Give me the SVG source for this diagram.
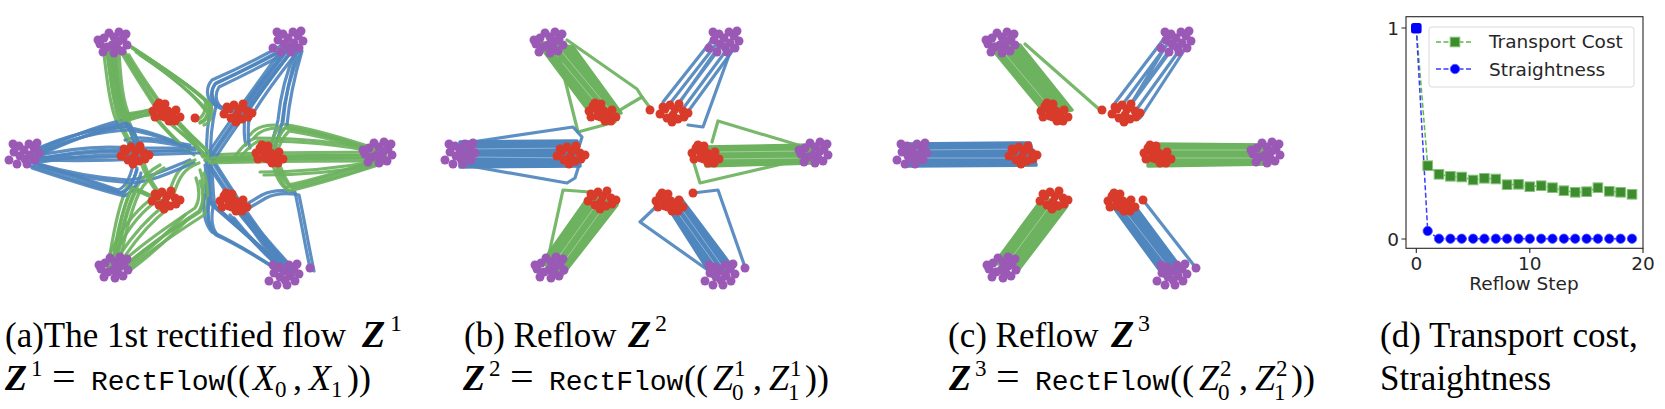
<svg xmlns="http://www.w3.org/2000/svg" xmlns:xlink="http://www.w3.org/1999/xlink" width="1665" height="409" viewBox="0 0 1665 409">
<style>
.g{fill:none;stroke:#6db25e;stroke-width:3.2;stroke-linecap:round;stroke-linejoin:round;stroke-opacity:.92}
.b{fill:none;stroke:#4f86be;stroke-width:3.2;stroke-linecap:round;stroke-linejoin:round;stroke-opacity:.92}
.gf{fill:#6db25e;stroke:#6db25e;stroke-width:3.5;stroke-linejoin:round}
.bf{fill:#4f86be;stroke:#4f86be;stroke-width:3.5;stroke-linejoin:round}
.gap{fill:none;stroke:#fff;stroke-width:.8;stroke-opacity:.45}
.cap{font-family:'Liberation Serif','Times New Roman',serif;fill:#000}
.bz{font-family:'Liberation Serif','Times New Roman',serif;font-weight:bold;font-style:italic}
.it{font-family:'Liberation Serif','Times New Roman',serif;font-style:italic}
.tt{font-family:'Liberation Mono','Courier New',monospace}
.ax{font-family:'DejaVu Sans',sans-serif;font-size:18.5px;fill:#262626}
</style>
<defs>
<g id="rA" fill="#d93b2b">
<circle cx="-14" cy="-2" r="4.5"/><circle cx="-10" cy="-7" r="4.5"/><circle cx="-6" cy="-3" r="4.5"/><circle cx="-2" cy="-9" r="4.5"/><circle cx="-12" cy="4" r="4.5"/><circle cx="-5" cy="3" r="4.5"/><circle cx="1" cy="-2" r="4.5"/><circle cx="5" cy="3" r="4.5"/><circle cx="9" cy="-3" r="4.5"/><circle cx="13" cy="4" r="4.5"/><circle cx="8" cy="8" r="4.5"/><circle cx="2" cy="8" r="4.5"/><circle cx="-2" cy="4" r="4.5"/><circle cx="-8" cy="-10" r="4.5"/>
</g>
<g id="rB" fill="#d93b2b">
<circle cx="-13" cy="1" r="4.5"/><circle cx="-8" cy="-4" r="4.5"/><circle cx="-3" cy="-8" r="4.5"/><circle cx="2" cy="-4" r="4.5"/><circle cx="6" cy="-9" r="4.5"/><circle cx="10" cy="-2" r="4.5"/><circle cx="-6" cy="5" r="4.5"/><circle cx="0" cy="2" r="4.5"/><circle cx="5" cy="6" r="4.5"/><circle cx="11" cy="4" r="4.5"/><circle cx="15" cy="0" r="4.5"/><circle cx="-1" cy="9" r="4.5"/><circle cx="-10" cy="-6" r="4.5"/>
</g>
<g id="pA" fill="#9b59b6">
<circle cx="-14" cy="1" r="4.5"/><circle cx="-10" cy="-5" r="4.5"/><circle cx="-5" cy="-10" r="4.5"/><circle cx="0" cy="-6" r="4.5"/><circle cx="5" cy="-11" r="4.5"/><circle cx="9" cy="-4" r="4.5"/><circle cx="13" cy="2" r="4.5"/><circle cx="-7" cy="4" r="4.5"/><circle cx="-2" cy="2" r="4.5"/><circle cx="3" cy="5" r="4.5"/><circle cx="8" cy="8" r="4.5"/><circle cx="-11" cy="9" r="4.5"/><circle cx="0" cy="10" r="4.5"/><circle cx="5" cy="-2" r="4.5"/><circle cx="12" cy="-9" r="4.5"/><circle cx="-16" cy="-3" r="4.5"/>
</g>
<g id="pB" fill="#9b59b6">
<circle cx="-16" cy="7" r="4.5"/><circle cx="-11" cy="-1" r="4.5"/><circle cx="-6" cy="-7" r="4.5"/><circle cx="-1" cy="-3" r="4.5"/><circle cx="4" cy="-9" r="4.5"/><circle cx="9" cy="-5" r="4.5"/><circle cx="14" cy="0" r="4.5"/><circle cx="-5" cy="3" r="4.5"/><circle cx="0" cy="6" r="4.5"/><circle cx="5" cy="2" r="4.5"/><circle cx="10" cy="7" r="4.5"/><circle cx="-8" cy="11" r="4.5"/><circle cx="2" cy="11" r="4.5"/><circle cx="12" cy="-10" r="4.5"/><circle cx="-12" cy="-9" r="4.5"/>
</g>
<g id="dots">
<use href="#rA" x="-35" y="113"/><use href="#rB" x="35" y="113"/><use href="#rB" x="-68" y="155"/><use href="#rA" x="68" y="155"/><use href="#rB" x="-37" y="200"/><use href="#rA" x="32" y="203"/>
<use href="#pA" x="-88" y="43"/><use href="#pB" x="87" y="41"/><use href="#pB" x="-177" y="153"/><use href="#pA" x="177" y="153"/><use href="#pA" x="-87" y="268"/><use href="#pB" x="83" y="274"/>
</g>
<rect id="sq" x="-4.8" y="-4.8" width="9.6" height="9.6" fill="#3d8c2e" stroke="#86c279" stroke-width="1"/>
<circle id="dt" r="4.7" fill="#0000ff" stroke="#5a5aff" stroke-width=".8"/>
</defs>
<rect width="1665" height="409" fill="#fff"/>

<g id="panel-a">
<g id="flows-a">
<path class="g" d="M106,45 C110,75 113,100 120,118 C130,116 145,110 158,108"/>
<path class="g" d="M109,47 C112,78 116,100 122,117 C132,114 148,110 163,112"/>
<path class="g" d="M112,48 C114,80 117,98 124,116 C128,125 132,138 137,148"/>
<path class="g" d="M103,46 C107,80 110,105 116,120 C122,130 128,140 132,152"/>
<path class="g" d="M115,50 C117,80 119,100 126,114 L165,108"/>
<path class="g" d="M128,45 C150,60 185,80 205,100 C207,110 203,118 196,120"/>
<path class="g" d="M132,47 C155,62 188,85 207,102 C210,112 206,120 200,122"/>
<path class="g" d="M136,52 C160,68 190,90 205,110"/>
<path class="g" d="M125,52 C135,70 150,90 162,108"/>
<path class="g" d="M120,50 C132,72 148,95 158,112"/>
<path class="g" d="M160,115 C175,128 190,140 205,155"/>
<path class="g" d="M168,112 C180,125 195,140 208,152"/>
<path class="g" d="M172,118 C185,130 195,145 203,157"/>
<path class="g" d="M150,112 C165,130 180,145 190,152"/>
<path class="b" d="M30,155 C60,140 100,125 123,120 C130,125 133,135 135,145"/>
<path class="b" d="M32,152 C62,138 98,127 125,123 C132,130 134,140 138,150"/>
<path class="b" d="M28,158 C60,150 95,145 130,148 L185,148"/>
<path class="b" d="M30,160 C60,155 100,150 135,152 L195,150"/>
<path class="b" d="M32,157 C65,158 100,158 140,156"/>
<path class="b" d="M30,162 C60,170 95,182 118,190 C126,187 130,178 133,165"/>
<path class="b" d="M28,165 C58,175 92,186 120,193 C128,190 134,180 137,170"/>
<path class="b" d="M35,150 C65,135 100,128 125,127 C150,130 170,140 185,145"/>
<path class="b" d="M35,163 C65,172 100,178 128,180 C150,178 170,168 190,160"/>
<path class="b" d="M125,140 C140,135 160,140 190,145"/>
<path class="g" d="M108,268 C112,240 118,205 128,185 C140,190 150,195 160,200"/>
<path class="g" d="M112,266 C116,238 122,208 132,188 C145,192 155,198 165,203"/>
<path class="g" d="M115,265 C120,235 126,210 135,190 C140,180 150,170 160,165"/>
<path class="g" d="M118,266 C140,245 170,225 195,208 C200,200 200,190 196,178"/>
<path class="g" d="M122,268 C145,248 175,228 200,212 C205,200 205,185 200,170"/>
<path class="g" d="M125,268 C150,250 170,230 185,215"/>
<path class="g" d="M110,270 C125,245 145,220 165,205"/>
<path class="g" d="M105,265 C115,240 130,215 150,200"/>
<path class="g" d="M160,195 C150,185 145,175 140,160"/>
<path class="g" d="M170,190 C175,175 180,165 195,160"/>
<path class="b" d="M283,270 C260,245 230,220 208,200 C205,190 207,175 205,165"/>
<path class="b" d="M287,272 C262,248 235,225 212,205 C208,195 210,180 207,162"/>
<path class="b" d="M290,272 C270,250 250,228 238,212"/>
<path class="b" d="M280,268 C258,248 242,230 230,215"/>
<path class="b" d="M293,270 C275,250 255,228 240,208"/>
<path class="b" d="M310,268 C305,245 300,215 295,192 C285,190 272,190 262,195 L245,205"/>
<path class="b" d="M205,160 C230,200 260,240 280,268"/>
<path class="b" d="M210,158 C235,198 262,238 285,266"/>
<path class="b" d="M205,195 C202,210 205,225 212,232 C230,240 255,255 275,268"/>
<path class="b" d="M210,200 C206,215 208,228 215,233"/>
<path class="b" d="M288,42 C265,55 235,70 212,80 C205,88 207,98 212,103 C225,110 235,110 240,112"/>
<path class="b" d="M292,44 C268,58 240,72 215,84 C210,92 212,100 218,105"/>
<path class="b" d="M290,46 C270,70 250,95 240,112"/>
<path class="b" d="M294,48 C275,72 255,98 245,118"/>
<path class="b" d="M296,50 C285,75 280,100 278,120 C276,130 272,140 270,150"/>
<path class="b" d="M298,48 C290,75 285,100 283,122"/>
<path class="b" d="M285,45 C260,80 230,120 207,155"/>
<path class="b" d="M288,47 C262,83 232,122 210,157"/>
<path class="b" d="M245,115 C244,125 243,135 246,145"/>
<path class="b" d="M212,103 C208,120 206,140 207,155"/>
<path class="g" d="M380,152 C320,152 260,153 207,155"/>
<path class="g" d="M382,155 C320,155 260,156 210,158"/>
<path class="g" d="M378,158 C320,158 255,158 205,160"/>
<path class="g" d="M380,150 C350,140 310,128 282,124 C275,130 272,140 270,150"/>
<path class="g" d="M382,153 C352,143 312,132 285,128 C278,135 275,142 272,152"/>
<path class="g" d="M380,160 C350,170 310,182 285,188 C278,182 275,172 272,162"/>
<path class="g" d="M383,158 C352,168 314,180 288,185 C282,178 278,168 275,160"/>
<path class="g" d="M375,150 C340,142 300,138 255,138 C245,142 240,150 235,156"/>
<path class="g" d="M378,161 C340,168 300,172 260,172"/>
<path class="g" d="M250,135 C255,128 262,125 275,125"/>
</g>
<use href="#flows-a" transform="translate(4,3)"/>
<use href="#dots" x="202"/>
<circle cx="195" cy="118" r="4.5" fill="#d93b2b"/>
<circle cx="310" cy="268" r="4.5" fill="#9b59b6"/>
</g>

<g id="panel-b">
<g id="flows-b">
<polygon class="bf" points="460,142 577,141 580,166 460,167"/>
<path class="gap" d="M468,149 L572,148 M468,157 L574,158"/>
<polygon class="gf" points="706,147 812,145 812,163 706,166"/>
<path class="gap" d="M712,152 L805,151 M712,159 L805,158"/>
<polygon class="gf" points="537,42 573,47 621,113 588,110"/>
<path class="gap" d="M552,50 L600,108 M562,52 L610,110"/>
<path class="b" d="M663,102 L712,40 M668,106 L718,42 M675,108 L722,45 M682,110 L728,48 M687,113 L733,50 M670,116 L725,38"/>
<polygon class="gf" points="590,195 617,205 563,274 542,263"/>
<path class="gap" d="M598,202 L552,266 M606,204 L558,270"/>
<polygon class="bf" points="668,207 682,200 733,268 712,276"/>
<path class="gap" d="M673,206 L719,270 M678,204 L725,270"/>
<path class="g" d="M567,40 L637,89 L642,97 L630,104 L612,115"/>
<path class="g" d="M642,97 L651,109"/>
<path class="g" d="M558,52 L578,132 L615,122"/>
<path class="b" d="M732,47 L703,127 L688,125"/>
<path class="b" d="M465,143 L573,127 L582,137 L578,150"/>
<path class="b" d="M470,166 L567,183 L575,178 L580,162"/>
<path class="g" d="M808,148 L718,121 L712,142"/>
<path class="g" d="M693,160 L700,183 L808,158"/>
<path class="g" d="M547,263 L563,190 L590,192"/>
<path class="b" d="M660,203 L640,222 L712,273"/>
<path class="b" d="M693,193 L718,190 L745,267"/>
</g>
<use href="#dots" x="638"/>
<circle cx="650" cy="110" r="4.5" fill="#d93b2b"/>
<circle cx="693" cy="193" r="4.5" fill="#d93b2b"/>
<circle cx="745" cy="268" r="4.5" fill="#9b59b6"/>
</g>

<g id="panel-c">
<g id="flows-c">
<polygon class="bf" points="907,144 1030,143 1036,165 907,166"/>
<path class="gap" d="M915,150 L1025,149 M915,158 L1025,158"/>
<polygon class="gf" points="1150,144 1268,145 1270,164 1148,166"/>
<path class="gap" d="M1158,150 L1262,150 M1158,158 L1262,158"/>
<polygon class="gf" points="988,44 1020,45 1072,110 1045,113"/>
<path class="gap" d="M1000,48 L1052,110"/>
<path class="g" d="M1025,44 L1100,110"/>
<path class="b" d="M1115,103 L1163,40 M1120,108 L1169,42 M1127,110 L1175,45 M1134,113 L1181,48 M1140,118 L1187,46 M1123,116 L1178,38 M1131,104 L1172,36"/>
<polygon class="gf" points="1043,198 1067,206 1019,269 995,263"/>
<path class="gap" d="M1052,203 L1006,265"/>
<polygon class="bf" points="1112,205 1131,201 1183,271 1164,276"/>
<path class="gap" d="M1120,205 L1172,272"/>
<path class="b" d="M1143,200 L1196,268"/>
</g>
<use href="#dots" x="1090"/>
<circle cx="1102" cy="110" r="4.5" fill="#d93b2b"/>
<circle cx="1143" cy="200" r="4.5" fill="#d93b2b"/>
<circle cx="1196" cy="268" r="4.5" fill="#9b59b6"/>
</g>

<g id="panel-d">
<rect x="1406" y="16.7" width="237" height="231.6" fill="none" stroke="#262626" stroke-width="1.1"/>
<path d="M1401.5,28 L1406,28 M1401.5,239 L1406,239 M1416.3,248.3 L1416.3,253 M1529.8,248.3 L1529.8,253 M1643,248.3 L1643,253" stroke="#262626" stroke-width="1.1"/>
<text class="ax" x="1399" y="35" text-anchor="end">1</text>
<text class="ax" x="1399" y="246" text-anchor="end">0</text>
<text class="ax" x="1416.3" y="270" text-anchor="middle">0</text>
<text class="ax" x="1529.8" y="270" text-anchor="middle">10</text>
<text class="ax" x="1643" y="270" text-anchor="middle">20</text>
<text class="ax" x="1524" y="290" text-anchor="middle">Reflow Step</text>
<polyline fill="none" stroke="#5cb84f" stroke-width="1.5" stroke-dasharray="5,2.5" points="1416.3,28 1427.7,165.7 1439,174.3 1450.4,176.3 1461.7,177 1473.1,180 1484.4,178.3 1495.8,179 1507.1,184.7 1518.5,184.3 1529.8,186.7 1541.2,185.7 1552.5,187.7 1563.9,190.7 1575.2,192.3 1586.6,191.7 1597.9,187.7 1609.3,191.3 1620.6,192.3 1632,194.3"/>
<polyline fill="none" stroke="#3a3aff" stroke-width="1.5" stroke-dasharray="5,2.5" points="1416.3,28 1427.7,231 1439,238.7 1632,238.7"/>
<use href="#sq" x="1427.7" y="165.7"/><use href="#sq" x="1439" y="174.3"/><use href="#sq" x="1450.4" y="176.3"/><use href="#sq" x="1461.7" y="177"/><use href="#sq" x="1473.1" y="180"/><use href="#sq" x="1484.4" y="178.3"/><use href="#sq" x="1495.8" y="179"/><use href="#sq" x="1507.1" y="184.7"/><use href="#sq" x="1518.5" y="184.3"/><use href="#sq" x="1529.8" y="186.7"/><use href="#sq" x="1541.2" y="185.7"/><use href="#sq" x="1552.5" y="187.7"/><use href="#sq" x="1563.9" y="190.7"/><use href="#sq" x="1575.2" y="192.3"/><use href="#sq" x="1586.6" y="191.7"/><use href="#sq" x="1597.9" y="187.7"/><use href="#sq" x="1609.3" y="191.3"/><use href="#sq" x="1620.6" y="192.3"/><use href="#sq" x="1632" y="194.3"/>
<rect x="1411" y="23" width="10.6" height="10.6" rx="2.5" fill="#0000ff"/>
<use href="#dt" x="1427.7" y="231"/><use href="#dt" x="1439" y="238.7"/><use href="#dt" x="1450.4" y="238.7"/><use href="#dt" x="1461.7" y="238.7"/><use href="#dt" x="1473.1" y="238.7"/><use href="#dt" x="1484.4" y="238.7"/><use href="#dt" x="1495.8" y="238.7"/><use href="#dt" x="1507.1" y="238.7"/><use href="#dt" x="1518.5" y="238.7"/><use href="#dt" x="1529.8" y="238.7"/><use href="#dt" x="1541.2" y="238.7"/><use href="#dt" x="1552.5" y="238.7"/><use href="#dt" x="1563.9" y="238.7"/><use href="#dt" x="1575.2" y="238.7"/><use href="#dt" x="1586.6" y="238.7"/><use href="#dt" x="1597.9" y="238.7"/><use href="#dt" x="1609.3" y="238.7"/><use href="#dt" x="1620.6" y="238.7"/><use href="#dt" x="1632" y="238.7"/>
<g id="legend">
<rect x="1429" y="27" width="205" height="60" rx="3" fill="#fff" fill-opacity=".85" stroke="#d9d9d9" stroke-width="1"/>
<path d="M1436,42 L1473,42" stroke="#5cb84f" stroke-width="1.5" stroke-dasharray="5,2.5"/>
<use href="#sq" x="1455" y="42"/>
<path d="M1436,69 L1473,69" stroke="#3a3aff" stroke-width="1.5" stroke-dasharray="5,2.5"/>
<use href="#dt" x="1455" y="69"/>
<text class="ax" x="1489" y="48">Transport Cost</text>
<text class="ax" x="1489" y="76">Straightness</text>
</g>
</g>

<g id="captions">
<text class="cap" x="5" y="347" font-size="35">(a)The 1st rectified flow</text>
<text class="bz" x="362" y="347" font-size="38">Z</text>
<text class="cap" x="390" y="331" font-size="24">1</text>
<text class="cap" x="464" y="347" font-size="35">(b) Reflow</text>
<text class="bz" x="628" y="347" font-size="38">Z</text>
<text class="cap" x="655" y="331" font-size="24">2</text>
<text class="cap" x="948" y="347" font-size="35">(c) Reflow</text>
<text class="bz" x="1111" y="347" font-size="38">Z</text>
<text class="cap" x="1138" y="331" font-size="24">3</text>
<text class="cap" x="1380" y="347" font-size="35">(d) Transport cost,</text>
<text class="cap" x="1380" y="390" font-size="35">Straightness</text>

<text class="bz" x="5" y="390" font-size="36">Z</text>
<text class="cap" x="31" y="376" font-size="23">1</text>
<text class="cap" x="52" y="390" font-size="42">=</text>
<text class="tt" x="91" y="390" font-size="28">RectFlow</text>
<text class="cap" x="226" y="390" font-size="36">((</text>
<text class="it" x="253" y="390" font-size="36">X</text>
<text class="cap" x="275" y="397" font-size="23">0</text>
<text class="cap" x="293" y="390" font-size="36">,</text>
<text class="it" x="309" y="390" font-size="36">X</text>
<text class="cap" x="331" y="397" font-size="23">1</text>
<text class="cap" x="347" y="390" font-size="36">))</text>

<text class="bz" x="463" y="390" font-size="36">Z</text>
<text class="cap" x="489" y="376" font-size="23">2</text>
<text class="cap" x="510" y="390" font-size="42">=</text>
<text class="tt" x="549" y="390" font-size="28">RectFlow</text>
<text class="cap" x="684" y="390" font-size="36">((</text>
<text class="it" x="713" y="390" font-size="36">Z</text>
<text class="cap" x="734" y="376" font-size="23">1</text>
<text class="cap" x="732" y="400" font-size="23">0</text>
<text class="cap" x="753" y="390" font-size="36">,</text>
<text class="it" x="769" y="390" font-size="36">Z</text>
<text class="cap" x="790" y="376" font-size="23">1</text>
<text class="cap" x="788" y="400" font-size="23">1</text>
<text class="cap" x="805" y="390" font-size="36">))</text>

<text class="bz" x="949" y="390" font-size="36">Z</text>
<text class="cap" x="975" y="376" font-size="23">3</text>
<text class="cap" x="996" y="390" font-size="42">=</text>
<text class="tt" x="1035" y="390" font-size="28">RectFlow</text>
<text class="cap" x="1170" y="390" font-size="36">((</text>
<text class="it" x="1199" y="390" font-size="36">Z</text>
<text class="cap" x="1220" y="376" font-size="23">2</text>
<text class="cap" x="1218" y="400" font-size="23">0</text>
<text class="cap" x="1239" y="390" font-size="36">,</text>
<text class="it" x="1255" y="390" font-size="36">Z</text>
<text class="cap" x="1276" y="376" font-size="23">2</text>
<text class="cap" x="1274" y="400" font-size="23">1</text>
<text class="cap" x="1291" y="390" font-size="36">))</text>
</g>
</svg>
